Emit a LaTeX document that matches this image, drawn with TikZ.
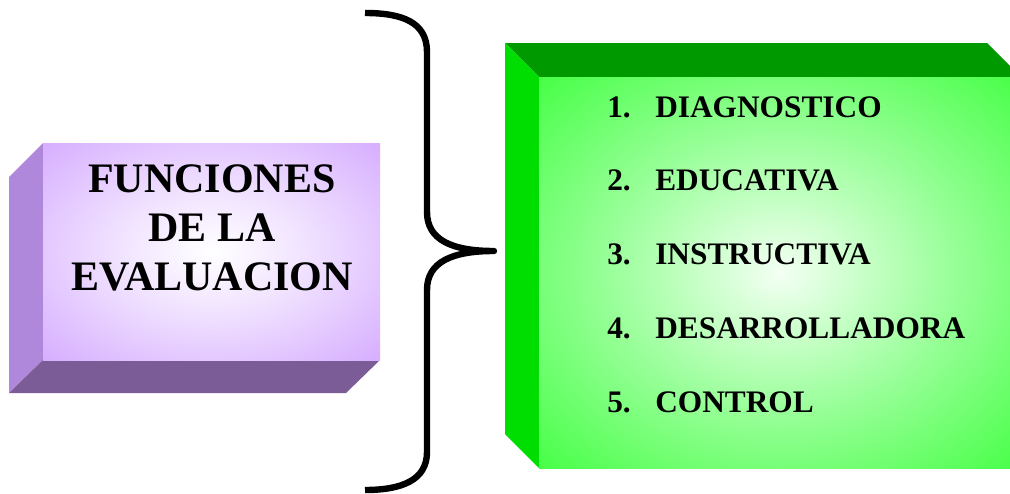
\documentclass[tikz,border=0pt]{standalone}
\usepackage{fontspec}
\setmainfont{Liberation Serif}
\usepackage{xcolor}
\usepackage{tikz}
\usetikzlibrary{matrix}
\definecolor{lilac}{HTML}{CC99FF}
\definecolor{lilacside}{HTML}{B088DB}
\definecolor{lilacfloor}{HTML}{7B5C96}
\definecolor{limeface}{HTML}{1AFF1A}
\definecolor{limetop}{HTML}{009900}
\definecolor{limeside}{HTML}{00DD00}
\pgfdeclareradialshading{lilacglow}{\pgfpoint{0bp}{0bp}}{color(0bp)=(white); color(14bp)=(white!72!lilac); color(44bp)=(lilac); color(50bp)=(lilac)}
\pgfdeclareradialshading{limeglow}{\pgfpoint{0bp}{0bp}}{color(0bp)=(white!95!limeface); color(18bp)=(white!55!limeface); color(45bp)=(limeface); color(50bp)=(limeface)}

\begin{document}
\begin{tikzpicture}[
			     x=0.75pt, y=-0.75pt,
			     title/.style={font=\fontsize{31.5pt}{36.75pt}\selectfont\bfseries, align=center, inner sep=0pt},
			     item/.style={font=\fontsize{23.5pt}{28pt}\selectfont\bfseries, anchor=base west, inner sep=0pt, text height=17pt, text depth=0pt},
			     brace/.style={line width=4.8pt, line join=round}
			     ]
\useasboundingbox (0,0) rectangle (1010,493);
\clip (0,0) rectangle (1010,493);
% lilac block
\fill[lilacside] (43,143) -- (9,177) -- (9,393) -- (43,360) -- cycle;
\fill[lilacfloor] (43,360) -- (380,360) -- (346,393) -- (9,393) -- cycle;
\shade[shading=lilacglow] (43,143) rectangle (380,360);
\node[title] (fun) at (212,228) {FUNCIONES\\DE LA\\EVALUACION};
% green block
\fill[limetop] (505,43) -- (987,43) -- (1021,77) -- (539,77) -- cycle;
\fill[limeside] (505,43) -- (539,77) -- (539,468) -- (505,434) -- cycle;
\shade[shading=limeglow] (539,77) rectangle (1021,468);
\matrix (list) [matrix of nodes, anchor=north west, inner sep=0pt, row sep=38.3pt, column sep=18.4pt, nodes={item}] at (607,94.3) {%
1. & DIAGNOSTICO \\
2. & EDUCATIVA \\
3. & INSTRUCTIVA \\
4. & DESARROLLADORA \\
5. & CONTROL \\
};
% brace
\draw[brace] (365,13) .. controls (402,13) and (427,22) .. (427,52) -- (427,212)
  .. controls (427,240) and (452,251) .. (494,251)
  .. controls (452,251) and (427,262) .. (427,290) -- (427,452)
  .. controls (427,480) and (402,490) .. (365,490);
\end{tikzpicture}
\end{document}
